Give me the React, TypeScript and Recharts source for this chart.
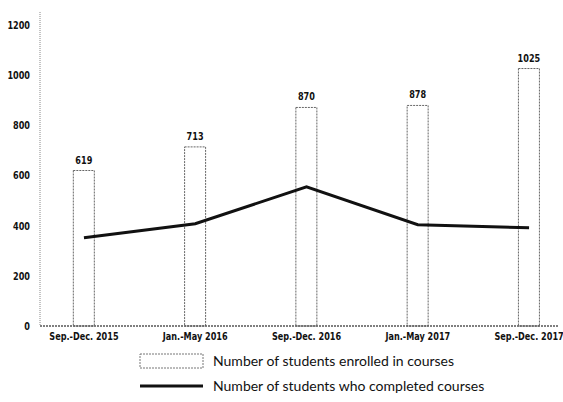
import { ComposedChart, Bar, Line, XAxis, YAxis, LabelList } from 'recharts';

const periods = ['Sep.-Dec. 2015', 'Jan.-May 2016', 'Sep.-Dec. 2016', 'Jan.-May 2017', 'Sep.-Dec. 2017'];
const enrolled = [619, 713, 870, 878, 1025];
const completed = [351, 407, 554, 403, 391];
const yTicks = [0, 200, 400, 600, 800, 1000, 1200];

const data = periods.map((p, i) => ({
  idx: i,
  period: p,
  enrolled: enrolled[i],
  completed: completed[i],
}));

const axisFont = '"DejaVu Sans", sans-serif';

// narrow bold text, squeezed horizontally like the condensed face of the original
function NarrowText({ x, y, text, anchor, dy }: any) {
  return (
    <g transform={`translate(${x},${y})`}>
      <text
        transform="scale(0.74,1)"
        textAnchor={anchor}
        dy={dy}
        fill="#111"
        fontSize={11}
        fontWeight="bold"
        fontFamily={axisFont}
      >
        {text}
      </text>
    </g>
  );
}

const XTick = (props: any) => (
  <NarrowText x={props.x} y={props.y} anchor="middle" dy={10} text={periods[props.payload.value]} />
);

const YTick = (props: any) => (
  <NarrowText x={props.x} y={props.y} anchor="end" dy={4} text={props.payload.value} />
);

const BarValue = (props: any) => {
  const { x, y, width, value } = props;
  return <NarrowText x={x + width / 2} y={y - 7} anchor="middle" dy={0} text={value} />;
};

export default function App() {
  return (
    <div
      style={{
        position: 'fixed',
        top: 0,
        left: 0,
        width: 563,
        height: 402,
        background: '#fff',
      }}
    >
      <ComposedChart
        width={563}
        height={350}
        data={data}
        margin={{ top: 12, right: 5, left: 0, bottom: 0 }}
      >
        <XAxis
          dataKey="idx"
          type="number"
          domain={[-0.395, 4.26]}
          ticks={[0, 1, 2, 3, 4]}
          allowDataOverflow
          height={24}
          tickSize={0}
          tickMargin={4}
          axisLine={{ stroke: '#555', strokeDasharray: '2 1', strokeWidth: 1.5 }}
          tick={<XTick />}
          interval={0}
        />
        <YAxis
          domain={[0, 1250]}
          ticks={yTicks}
          width={40}
          tickSize={0}
          tickMargin={10}
          axisLine={{ stroke: '#888', strokeDasharray: '1 1' }}
          tick={<YTick />}
        />
        <Bar
          dataKey="enrolled"
          barSize={21}
          fill="#fff"
          stroke="#666"
          strokeDasharray="2 1"
          isAnimationActive={false}
        >
          <LabelList dataKey="enrolled" content={<BarValue />} />
        </Bar>
        <Line
          dataKey="completed"
          stroke="#111"
          strokeWidth={3}
          dot={false}
          isAnimationActive={false}
        />
      </ComposedChart>
      <svg
        width={563}
        height={52}
        style={{ position: 'absolute', left: 0, top: 350 }}
      >
        <rect x={140} y={4} width={63} height={14} fill="#fff" stroke="#777" strokeDasharray="2 1" />
        <text x={213} y={16} fontSize={14} fontFamily="Lato, sans-serif" fill="#111">
          Number of students enrolled in courses
        </text>
        <line x1={140} y1={36} x2={203} y2={36} stroke="#111" strokeWidth={3} />
        <text x={213} y={41} fontSize={14} fontFamily="Lato, sans-serif" fill="#111">
          Number of students who completed courses
        </text>
      </svg>
    </div>
  );
}
